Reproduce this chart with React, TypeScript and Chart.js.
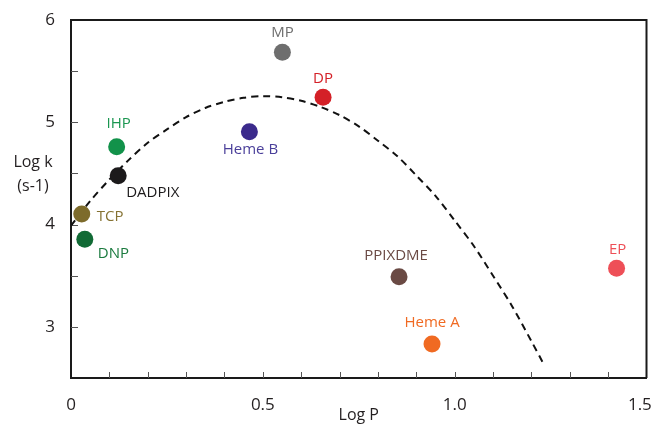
import React, { useEffect, useRef } from 'react';
import { Chart, registerables } from 'chart.js';

Chart.register(...registerables);

// ---- data ----
const compoundNames = ['MP', 'DP', 'Heme B', 'IHP', 'DADPIX', 'TCP', 'DNP', 'PPIXDME', 'Heme A', 'EP'];
const logP = [0.551, 0.657, 0.465, 0.119, 0.123, 0.028, 0.036, 0.855, 0.941, 1.422];
const logK = [5.684, 5.244, 4.908, 4.761, 4.478, 4.103, 3.856, 3.49, 2.832, 3.573];
const pointColors = ['#6e6e6e', '#d42027', '#3b2a8c', '#12924a', '#1c1a1b', '#7d6b2b', '#116a35', '#6a4a44', '#f06a22', '#ee4f57'];
const labelColors = ['#6e6e6e', '#d42027', '#4a3f9a', '#1a9650', '#1c1a1b', '#857232', '#1a7a3e', '#6a4a44', '#f06a22', '#ee4f57'];

// dashed fit curve
const fitLogP = [0, 0.05, 0.1, 0.15, 0.2, 0.25, 0.3, 0.35, 0.4, 0.45, 0.5, 0.55, 0.6, 0.65, 0.7, 0.75, 0.8, 0.85, 0.9, 0.95, 1.0, 1.05, 1.1, 1.15, 1.2, 1.23];
const fitLogK = [3.99, 4.23, 4.44, 4.63, 4.8, 4.93, 5.05, 5.14, 5.2, 5.24, 5.255, 5.245, 5.21, 5.15, 5.07, 4.96, 4.82, 4.67, 4.48, 4.28, 4.04, 3.79, 3.5, 3.2, 2.86, 2.65];

// tick labels (the last one is padded so it stays inside the canvas, as in the reference)
const xTickValues = [0, 0.5, 1.0, 1.5];
const xTickTexts = ['0', '0.5', '1.0', '1.5   '];
const yTickValues = [3, 4, 5, 6];
const yTickTexts = ['3', '4', '5', '6'];

const xTitle = 'Log P';
const yTitleLines = ['Log k', '(s-1)'];

// label placement (style, not data)
const labelPlacement: Record<string, { dx: number; dy: number; align: CanvasTextAlign }> = {
  'MP': { dx: 0, dy: -20, align: 'center' },
  'DP': { dx: 0, dy: -19, align: 'center' },
  'Heme B': { dx: 1, dy: 18, align: 'center' },
  'IHP': { dx: 2, dy: -23, align: 'center' },
  'DADPIX': { dx: 8, dy: 17, align: 'left' },
  'TCP': { dx: 15, dy: 3, align: 'left' },
  'DNP': { dx: 13, dy: 14, align: 'left' },
  'PPIXDME': { dx: -3, dy: -21, align: 'center' },
  'Heme A': { dx: 0, dy: -21, align: 'center' },
  'EP': { dx: 1, dy: -19, align: 'center' },
};

const FONT = '"Open Sans", "Noto Sans", sans-serif';

const findLabel = (v: number, values: number[], texts: string[]) => {
  for (let i = 0; i < values.length; i++) {
    if (Math.abs(v - values[i]) < 1e-6) return texts[i];
  }
  return '';
};

const decorPlugin = {
  id: 'decor',
  beforeDatasetsDraw(chart: any) {
    const { ctx, chartArea, scales } = chart;
    const { left, right, top, bottom } = chartArea;
    ctx.save();
    // top and right frame
    ctx.strokeStyle = '#1a1a1a';
    ctx.lineWidth = 2;
    ctx.beginPath();
    ctx.moveTo(left, top);
    ctx.lineTo(right, top);
    ctx.lineTo(right, bottom);
    ctx.stroke();
    // inside ticks
    ctx.strokeStyle = '#555';
    ctx.lineWidth = 1;
    scales.x.ticks.forEach((t: any) => {
      if (t.value <= scales.x.min + 1e-6 || t.value >= scales.x.max - 1e-6) return;
      const px = Math.round(scales.x.getPixelForValue(t.value)) + 0.5;
      ctx.beginPath();
      ctx.moveTo(px, bottom);
      ctx.lineTo(px, bottom - 6);
      ctx.stroke();
    });
    scales.y.ticks.forEach((t: any) => {
      if (t.value <= scales.y.min + 1e-6 || t.value >= scales.y.max - 1e-6) return;
      const py = Math.round(scales.y.getPixelForValue(t.value)) + 0.5;
      ctx.beginPath();
      ctx.moveTo(left, py);
      ctx.lineTo(left + 7, py);
      ctx.stroke();
    });
    ctx.restore();
  },
  afterDatasetsDraw(chart: any) {
    const { ctx, chartArea, scales } = chart;
    ctx.save();
    // point labels
    ctx.font = `15px ${FONT}`;
    ctx.textBaseline = 'middle';
    compoundNames.forEach((name, i) => {
      const p = labelPlacement[name];
      const px = scales.x.getPixelForValue(logP[i]);
      const py = scales.y.getPixelForValue(logK[i]);
      ctx.fillStyle = labelColors[i];
      ctx.textAlign = p.align;
      ctx.fillText(name, px + p.dx, py + p.dy);
    });
    // axis titles
    ctx.fillStyle = '#231f20';
    ctx.font = `16px ${FONT}`;
    ctx.textAlign = 'center';
    ctx.textBaseline = 'alphabetic';
    ctx.fillText(xTitle, (chartArea.left + chartArea.right) / 2, 420);
    ctx.fillText(yTitleLines[0], 33, 167);
    ctx.fillText(yTitleLines[1], 33, 191);
    ctx.restore();
  },
};

export default function App() {
  const canvasRef = useRef<HTMLCanvasElement | null>(null);

  useEffect(() => {
    if (!canvasRef.current) return;
    const points = logP.map((x, i) => ({ x, y: logK[i] }));
    const curve = fitLogP.map((x, i) => ({ x, y: fitLogK[i] }));
    const chart = new Chart(canvasRef.current, {
      type: 'scatter',
      data: {
        datasets: [
          {
            label: 'compounds',
            data: points,
            backgroundColor: pointColors,
            borderWidth: 0,
            pointRadius: 8.5,
            pointHoverRadius: 8.5,
          },
          {
            label: 'fit',
            data: curve,
            showLine: true,
            borderColor: '#111',
            borderWidth: 2,
            borderDash: [7, 5],
            pointRadius: 0,
            tension: 0.3,
            fill: false,
          },
        ],
      },
      options: {
        animation: false,
        responsive: true,
        maintainAspectRatio: false,
        layout: { padding: { top: 20, right: 7, left: 0, bottom: 0 } },
        plugins: {
          legend: { display: false },
          tooltip: { enabled: false },
        },
        scales: {
          x: {
            type: 'linear',
            min: 0,
            max: 1.5,
            grid: { display: false },
            border: { display: true, color: '#1a1a1a', width: 2 },
            ticks: {
              stepSize: 0.1,
              autoSkip: false,
              maxRotation: 0,
              padding: 9,
              color: '#231f20',
              font: { family: FONT, size: 17 },
              callback: (v: any) => findLabel(Number(v), xTickValues, xTickTexts),
            },
            afterFit: (s: any) => {
              s.height = 47;
              s.paddingLeft = 0;
              s.paddingRight = 0;
            },
          },
          y: {
            type: 'linear',
            min: 2.5,
            max: 6,
            grid: { display: false },
            border: { display: true, color: '#1a1a1a', width: 2 },
            ticks: {
              stepSize: 0.5,
              autoSkip: false,
              padding: 8,
              color: '#231f20',
              font: { family: FONT, size: 17 },
              callback: (v: any) => findLabel(Number(v), yTickValues, yTickTexts),
            },
            afterFit: (s: any) => {
              s.width = 71;
              s.paddingTop = 0;
              s.paddingBottom = 0;
            },
          },
        },
      },
      plugins: [decorPlugin],
    });
    return () => chart.destroy();
  }, []);

  return (
    <div style={{ position: 'fixed', left: 0, top: 0, width: 655, height: 425, background: '#fff' }}>
      <canvas ref={canvasRef} />
    </div>
  );
}
